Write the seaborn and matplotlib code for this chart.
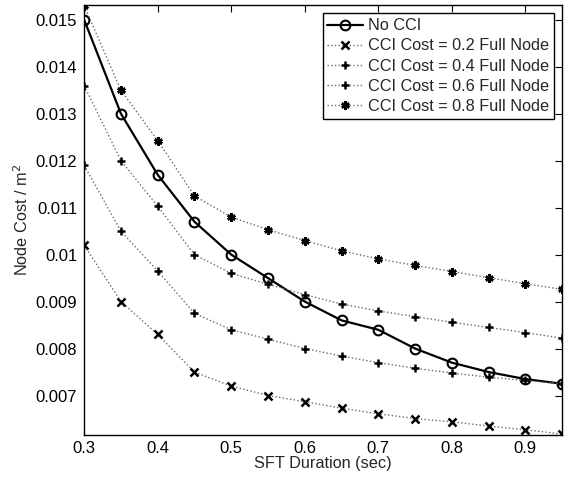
import numpy as np
import pandas as pd
import matplotlib
matplotlib.use('Agg')
import matplotlib.pyplot as plt
import seaborn as sns

sft = [0.3, 0.35, 0.4, 0.45, 0.5, 0.55, 0.6, 0.65, 0.7, 0.75, 0.8, 0.85, 0.9, 0.95]

no_cci = [0.0150, 0.0130, 0.0117, 0.0107, 0.0100, 0.0095, 0.0090, 0.0086, 0.0084, 0.0080, 0.0077, 0.0075, 0.00735, 0.00725]
cci_02 = [0.0102, 0.0090, 0.0083, 0.0075, 0.0072, 0.0070, 0.00687, 0.00673, 0.00661, 0.00651, 0.00644, 0.00635, 0.00627, 0.00618]
cci_04 = [0.0119, 0.0105, 0.00965, 0.00875, 0.0084, 0.0082, 0.0080, 0.00784, 0.0077, 0.00758, 0.00748, 0.00739, 0.00732, 0.00725]
cci_06 = [0.0136, 0.0120, 0.01103, 0.0100, 0.0096, 0.00937, 0.00915, 0.00895, 0.0088, 0.00868, 0.00856, 0.00845, 0.00834, 0.00822]
cci_08 = [0.0153, 0.0135, 0.01243, 0.01125, 0.0108, 0.01053, 0.0103, 0.01008, 0.00991, 0.00977, 0.00964, 0.00951, 0.00938, 0.00926]

labels = ['No CCI',
          'CCI Cost = 0.2 Full Node',
          'CCI Cost = 0.4 Full Node',
          'CCI Cost = 0.6 Full Node',
          'CCI Cost = 0.8 Full Node']
series = [no_cci, cci_02, cci_04, cci_06, cci_08]

sns.set_style('white')
plt.rcParams['font.family'] = ['Liberation Sans', 'DejaVu Sans']

fig, ax = plt.subplots(figsize=(5.65, 4.78), dpi=100)
fig.subplots_adjust(left=0.149, right=0.995, bottom=0.091, top=0.989)

markers = ['o', 'x', '+', '+', (6, 2, 0)]
for lab, vals, mk in zip(labels, series, markers):
    d = pd.DataFrame({'x': sft, 'y': vals})
    if lab == 'No CCI':
        sns.lineplot(data=d, x='x', y='y', ax=ax, color='black', lw=1.6,
                     marker='o', markersize=7, markerfacecolor='none',
                     markeredgecolor='black', markeredgewidth=1.5, label=lab)
    else:
        sns.lineplot(data=d, x='x', y='y', ax=ax, color='#6a6a6a', lw=1.0,
                     linestyle=':', marker=mk, markersize=6,
                     markeredgecolor='black', markerfacecolor='black',
                     markeredgewidth=1.8, label=lab)

ax.set_xlim(0.3, 0.95)
ax.set_ylim(0.00617, 0.01531)
ax.set_xticks([0.3, 0.4, 0.5, 0.6, 0.7, 0.8, 0.9])
ax.set_xticklabels(['0.3', '0.4', '0.5', '0.6', '0.7', '0.8', '0.9'])
yt = [0.007, 0.008, 0.009, 0.010, 0.011, 0.012, 0.013, 0.014, 0.015]
ax.set_yticks(yt)
ax.set_yticklabels(['0.007', '0.008', '0.009', '0.01', '0.011', '0.012', '0.013', '0.014', '0.015'])
ax.tick_params(direction='in', top=True, right=True, length=5, width=0.8,
               labelsize=12, colors='black', pad=5)
for s in ax.spines.values():
    s.set_color('black')
    s.set_linewidth(1.0)

ax.set_xlabel('SFT Duration (sec)', fontsize=11.7, labelpad=0)
ax.set_ylabel('Node Cost / m$^2$', fontsize=11.7, labelpad=3)

leg = ax.legend(loc='upper right', fontsize=11.7, frameon=True, fancybox=False,
                edgecolor='black', framealpha=1, handlelength=2.2,
                borderpad=0.3, labelspacing=0.32, handletextpad=0.3,
                borderaxespad=0.5)
leg.get_frame().set_linewidth(1.0)

fig.savefig('out.png', dpi=100)
